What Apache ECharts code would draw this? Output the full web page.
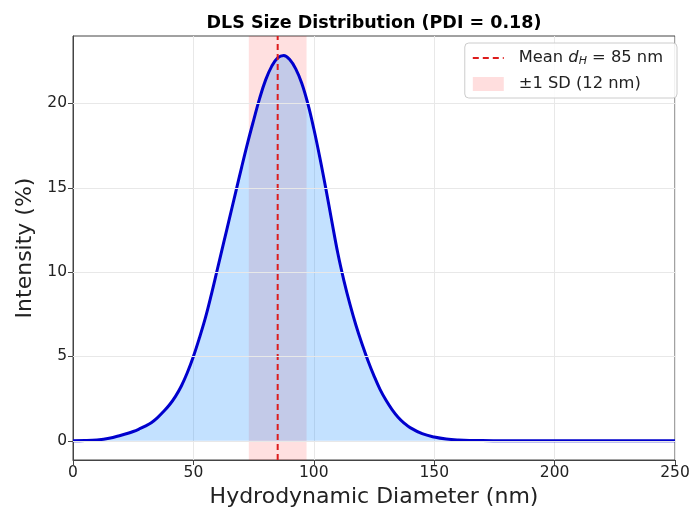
<!DOCTYPE html>
<html>
<head>
<meta charset="utf-8">
<script src="https://cdn.jsdelivr.net/npm/echarts@6/dist/echarts.min.js"></script>
<style>html,body{margin:0;padding:0;background:#fff}#c{width:693px;height:513px}</style>
</head>
<body>
<div id="c"></div>
<script>
const diameters = [0,5,10,15,20,22.5,25,27.5,30,32.5,35,37.5,40,42.5,45,47.5,50,52.5,55,57.5,60,62.5,65,67.5,70,72.5,75,77.5,80,82.5,85,87.5,90,92.5,95,97.5,100,102.5,105,107.5,110,112.5,115,117.5,120,122.5,125,127.5,130,132.5,135,137.5,140,145,150,155,160,170,180,200,225,250];
const intensities = [0,0.01,0.05,0.15,0.33,0.43,0.55,0.7,0.87,1.07,1.36,1.72,2.12,2.62,3.25,4.05,5.0,6.1,7.3,8.7,10.2,11.7,13.2,14.7,16.2,17.65,19.0,20.3,21.4,22.2,22.7,22.85,22.6,22.05,21.2,20.0,18.5,16.8,14.95,13.0,11.1,9.5,8.1,6.85,5.75,4.75,3.85,3.05,2.4,1.85,1.4,1.05,0.78,0.42,0.22,0.1,0.05,0.01,0,0,0,0];
const meanD = 85;
const sdD = 12;
const xTicks = [0,50,100,150,200,250];
const yTicks = [0,5,10,15,20];
const yRange = [-1.14, 24.0];
const xRange = [0, 250];

const curve = diameters.map((d,i)=>[d,intensities[i]]);
const FONT = 'DejaVu Sans';
const chart = echarts.init(document.getElementById('c'), null, {renderer:'canvas'});
chart.setOption({
  animation:false,
  backgroundColor:'#fff',
  title:{
    text:'DLS Size Distribution (PDI = 0.18)',
    left:369, top:9, textAlign:'center',
    textStyle:{fontFamily:FONT, fontWeight:'bold', fontSize:17.5, color:'#000'}
  },
  grid:{left:73, right:18, top:36, bottom:53, show:true, borderColor:'#444', borderWidth:1, backgroundColor:'transparent'},
  legend:{
    orient:'vertical', right:16, top:43,
    backgroundColor:'rgba(255,255,255,0.85)', borderColor:'#cccccc', borderWidth:1, borderRadius:4,
    padding:[7,14,6,7], itemGap:9, itemWidth:31, itemHeight:14,
    textStyle:{fontFamily:FONT, fontSize:16.3, color:'#222',
      rich:{
        sp:{width:10},
        n:{fontFamily:FONT, fontSize:16.3, color:'#222'},
        i:{fontFamily:FONT, fontSize:16.3, fontStyle:'italic', color:'#222'},
        s:{fontFamily:FONT, fontSize:11, fontStyle:'italic', color:'#222', padding:[7,0,0,0]}
      }},
    data:[{name:'mean', itemStyle:{opacity:0}},{name:'sd', icon:'rect', itemStyle:{color:'rgba(255,0,0,0.13)'}}],
    formatter:function(n){
      if(n==='mean') return '{sp|}{n|Mean }{i|d}{s|H}{n| = '+meanD+' nm}';
      return '{sp|}{n|±1 SD ('+sdD+' nm)}';
    }
  },
  xAxis:{
    type:'value', min:xRange[0], max:xRange[1], interval:50,
    name:'Hydrodynamic Diameter (nm)', nameLocation:'middle', nameGap:25,
    nameTextStyle:{fontFamily:FONT, fontSize:22, color:'#222'},
    axisLine:{show:true, onZero:false, lineStyle:{color:'#444', width:1}},
    axisTick:{show:true, length:5, lineStyle:{color:'#444'}},
    axisLabel:{fontFamily:FONT, fontSize:15.5, color:'#222', margin:5},
    splitLine:{show:true, lineStyle:{color:'#e8e8e8', width:1}}
  },
  yAxis:{
    type:'value', min:yRange[0], max:yRange[1],
    name:'Intensity (%)', nameLocation:'middle', nameGap:37, nameRotate:90,
    nameTextStyle:{fontFamily:FONT, fontSize:22, color:'#222'},
    axisLine:{show:true, onZero:false, lineStyle:{color:'#444', width:1}},
    axisTick:{show:true, length:5, customValues:yTicks, lineStyle:{color:'#444'}},
    axisLabel:{fontFamily:FONT, fontSize:15.5, color:'#222', margin:6, customValues:yTicks},
    splitLine:{show:false}
  },
  series:[
    {
      name:'grid', type:'line', data:[], silent:true, z:0,
      markLine:{silent:true, symbol:'none', label:{show:false}, animation:false,
        lineStyle:{color:'#e8e8e8', width:1, type:'solid'},
        data:yTicks.map(v=>({yAxis:v}))}
    },
    {
      name:'area', type:'line', data:curve, smooth:0.4, symbol:'none', z:1,
      lineStyle:{width:0, opacity:0},
      areaStyle:{color:'rgba(30,144,255,0.38)', origin:0}
    },
    {
      name:'sd', type:'line', data:[], z:2, itemStyle:{color:'rgba(255,0,0,0.13)'},
      markArea:{silent:true, itemStyle:{color:'rgba(255,0,0,0.12)'},
        data:[[{xAxis:meanD-sdD},{xAxis:meanD+sdD}]]}
    },
    {
      name:'curve', type:'line', data:curve, smooth:0.4, symbol:'none', z:3,
      lineStyle:{color:'#0000cd', width:3}
    },
    {
      name:'mean', type:'line', data:[[meanD,yRange[0]],[meanD,yRange[1]]], symbol:'none', z:4,
      itemStyle:{color:'#dd1c1c'},
      lineStyle:{color:'#dd1c1c', width:2, type:[6,4]}
    }
  ]
});
</script>
</body>
</html>
